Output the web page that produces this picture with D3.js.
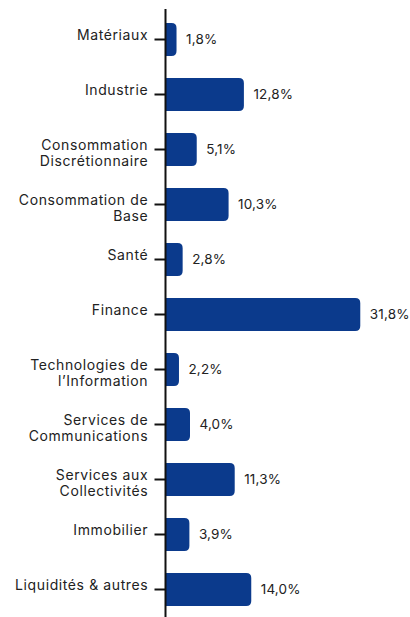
<!DOCTYPE html>
<html>
<head>
<meta charset="utf-8">
<script src="https://cdn.jsdelivr.net/npm/d3@7"></script>
<style>
  html, body { margin: 0; padding: 0; background: #ffffff; }
  svg { display: block; }
  text { font-family: Inter, "Noto Sans", sans-serif; }
  .cat { letter-spacing: 0.6px; }
  .val { letter-spacing: 0.15px; }
</style>
</head>
<body>
<svg id="chart" width="410" height="617"></svg>
<script>
// Sector breakdown (percent of portfolio)
const categories = [
  "Matériaux",
  "Industrie",
  "Consommation\nDiscrétionnaire",
  "Consommation de\nBase",
  "Santé",
  "Finance",
  "Technologies de\nl’Information",
  "Services de\nCommunications",
  "Services aux\nCollectivités",
  "Immobilier",
  "Liquidités & autres"
];
const values = [1.8, 12.8, 5.1, 10.3, 2.8, 31.8, 2.2, 4.0, 11.3, 3.9, 14.0];
const valueLabels = ["1,8%", "12,8%", "5,1%", "10,3%", "2,8%", "31,8%", "2,2%", "4,0%", "11,3%", "3,9%", "14,0%"];

const W = 410, H = 617;
const axisX = 165.5;
const barColor = "#0b3a8c";
const textColor = "#222222";

const svg = d3.select("#chart");

const x = d3.scaleLinear().domain([0, 40]).range([axisX, axisX + 245]);
const y = d3.scaleBand()
  .domain(categories)
  .range([12, 617])
  .paddingInner(0.4)
  .paddingOuter(0.2);

// bars: square on the axis side, rounded at the end
const r = 5;
function barPath(x0, x1, y0, h) {
  const rr = Math.min(r, (x1 - x0), h / 2);
  return `M${x0},${y0}H${x1 - rr}Q${x1},${y0} ${x1},${y0 + rr}` +
         `V${y0 + h - rr}Q${x1},${y0 + h} ${x1 - rr},${y0 + h}H${x0}Z`;
}

svg.append("g")
  .selectAll("path")
  .data(categories)
  .join("path")
  .attr("d", (c, i) => barPath(x(0), x(values[i]), y(c), y.bandwidth()))
  .attr("fill", barColor);

// value labels
svg.append("g")
  .selectAll("text")
  .data(categories)
  .join("text")
  .attr("class", "val")
  .attr("x", (c, i) => x(values[i]) + 9.5)
  .attr("y", c => y(c) + y.bandwidth() / 2)
  .attr("dy", "0.36em")
  .attr("font-size", 13.5)
  .attr("fill", textColor)
  .text((c, i) => valueLabels[i]);

// category axis
const axis = svg.append("g")
  .attr("transform", `translate(${axisX},0)`)
  .call(d3.axisLeft(y).tickSize(11).tickSizeOuter(0).tickPadding(6).tickFormat(""));

axis.select(".domain").remove();
axis.selectAll(".tick line").attr("stroke", "#111").attr("stroke-width", 2);

axis.append("line")
  .attr("x1", 0).attr("x2", 0)
  .attr("y1", 9).attr("y2", H)
  .attr("stroke", "#111").attr("stroke-width", 2);

axis.selectAll(".tick text").remove();
axis.selectAll(".tick").each(function(c) {
  const lines = c.split("\n");
  const t = d3.select(this).append("text")
    .attr("class", "cat")
    .attr("x", -17.3)
    .attr("y", 0.5)
    .attr("text-anchor", "end")
    .attr("font-size", 14)
    .attr("fill", textColor);
  lines.forEach((ln, k) => {
    t.append("tspan")
      .attr("x", -17.3)
      .attr("dy", k === 0 ? "0" : 15.5)
      .text(ln);
  });
});
</script>
</body>
</html>
